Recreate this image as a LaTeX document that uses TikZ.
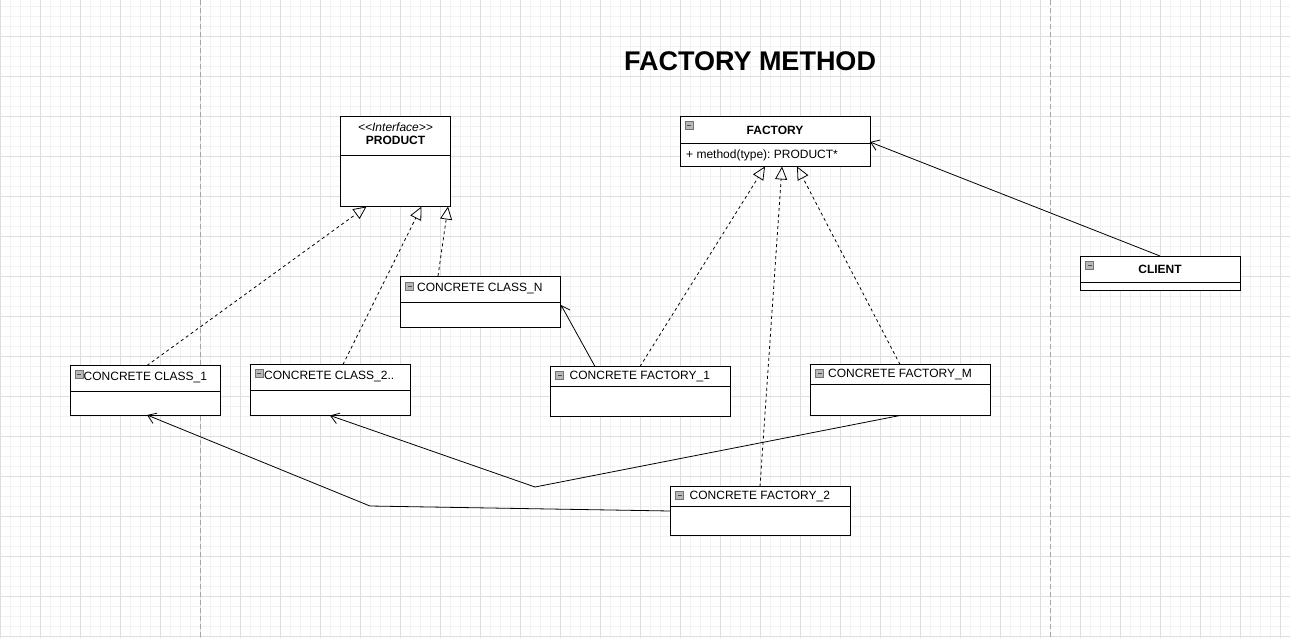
\documentclass[tikz,border=0pt]{standalone}
\usepackage{fontspec}
\setmainfont{Liberation Sans}
\usetikzlibrary{arrows.meta,calc}
\frenchspacing
\tikzset{
  minorgrid/.style={draw=black!5, line width=0.8pt},
  majorgrid/.style={draw=black!13, line width=0.8pt},
  pagebreak/.style={draw=black!35, line width=0.8pt, dash pattern=on 5pt off 3pt},
  umlbox/.style={draw=black, line width=0.9pt, fill=white, inner sep=0pt, outer sep=0pt, anchor=north west},
  divider/.style={draw=black, line width=0.9pt},
  lbl/.style={font=\fontsize{12}{14}\selectfont, inner sep=0pt, anchor=west},
  blbl/.style={font=\bfseries\fontsize{12}{14}\selectfont, inner sep=0pt},
  realize/.style={draw=black, line width=0.8pt, dash pattern=on 3pt off 3pt, -{Triangle[open, length=13pt, width=12pt]}},
  assoc/.style={draw=black, line width=0.8pt, -{Straight Barb[length=8pt, width=11pt]}},
  minusicon/.pic={
    \draw[fill=black!28, draw=black!55, line width=0.6pt] (0,0) rectangle (8,8);
    \draw[black!70, line width=0.9pt] (2,4) -- (6,4);
  }
}
\begin{document}
\begin{tikzpicture}[x=1pt, y=-1pt]
\useasboundingbox (0,0) rectangle (1290,638);
\fill[white] (0,0) rectangle (1290,638);
% grid
\foreach \x in {10,20,...,1290} \draw[minorgrid] (\x,0) -- (\x,638);
\foreach \y in {6,16,...,636} \draw[minorgrid] (0,\y) -- (1290,\y);
\foreach \x in {0,40,...,1280} \draw[majorgrid] (\x,0) -- (\x,638);
\foreach \y in {36,76,...,636} \draw[majorgrid] (0,\y) -- (1290,\y);
\draw[pagebreak] (200,0) -- (200,638);
\draw[pagebreak] (1050,0) -- (1050,638);

% title
\node[font=\bfseries\fontsize{27}{31}\selectfont, inner sep=0pt] (title) at (750,61) {FACTORY METHOD};

% PRODUCT
\node[umlbox, minimum width=110pt, minimum height=90pt] (product) at (340,116) {};
\draw[divider] (340,155) -- (450,155);
\node[font=\itshape\fontsize{12}{14}\selectfont, inner sep=0pt] (prodst) at (395.5,127) {<\kern0pt<Interface>\kern0pt>};
\node[blbl] (prodname) at (395.5,140.5) {PRODUCT};

% FACTORY
\node[umlbox, minimum width=190pt, minimum height=50pt] (factory) at (680,116.5) {};
\draw[divider] (680,143) -- (870,143);
\pic at (685,121) {minusicon};
\node[blbl] (factname) at (775,130) {FACTORY};
\node[lbl] (factop) at (686,155) {+ method(type): PRODUCT*};

% CLIENT
\node[umlbox, minimum width=160pt, minimum height=34pt] (client) at (1080.5,256) {};
\draw[divider] (1080.5,282) -- (1240.5,282);
\pic at (1085.5,261.5) {minusicon};
\node[blbl] (clientname) at (1160,269.5) {CLIENT};

% CONCRETE CLASS_1
\node[umlbox, minimum width=150pt, minimum height=50pt] (c1) at (70.5,365.5) {};
\draw[divider] (70.5,391.5) -- (220.5,391.5);
\pic at (75,370) {minusicon};
\node[lbl] (c1t) at (83.5,377.5) {CONCRETE CLASS\_1};

% CONCRETE CLASS_2..
\node[umlbox, minimum width=160pt, minimum height=51pt] (c2) at (250.5,364.5) {};
\draw[divider] (250.5,390.5) -- (410.5,390.5);
\pic at (255,369) {minusicon};
\node[lbl] (c2t) at (264,376) {CONCRETE CLASS\_2..};

% CONCRETE CLASS_N
\node[umlbox, minimum width=160pt, minimum height=51.5pt] (cn) at (400.5,276) {};
\draw[divider] (400.5,302.5) -- (560.5,302.5);
\pic at (405.5,282) {minusicon};
\node[lbl] (cnt) at (417,288.5) {CONCRETE CLASS\_N};

% CONCRETE FACTORY_1
\node[umlbox, minimum width=180pt, minimum height=49.5pt] (f1) at (550.5,366.5) {};
\draw[divider] (550.5,386.5) -- (730.5,386.5);
\pic at (555.5,371.5) {minusicon};
\node[lbl] (f1t) at (569.5,376) {CONCRETE FACTORY\_1};

% CONCRETE FACTORY_M
\node[umlbox, minimum width=180pt, minimum height=51pt] (fm) at (810.5,364.5) {};
\draw[divider] (810.5,384.5) -- (990.5,384.5);
\pic at (815.5,369.5) {minusicon};
\node[lbl] (fmt) at (828,374) {CONCRETE FACTORY\_M};

% CONCRETE FACTORY_2
\node[umlbox, minimum width=180pt, minimum height=49pt] (f2) at (670.5,486.5) {};
\draw[divider] (670.5,506.5) -- (850.5,506.5);
\pic at (675.5,491.5) {minusicon};
\node[lbl] (f2t) at (689.5,496.5) {CONCRETE FACTORY\_2};

% connector end points
\coordinate (pA) at (366.5,206.5);
\coordinate (pB) at (421.5,206.5);
\coordinate (pC) at (448,206.5);
\coordinate (fA) at (765,166.5);
\coordinate (fB) at (782,166.5);
\coordinate (fC) at (797,166.5);
\coordinate (c1top) at (147,365.5);
\coordinate (c2top) at (343,364.5);
\coordinate (cntop) at (438,276);
\coordinate (cnright) at (561,305);
\coordinate (f1topA) at (595,366.5);
\coordinate (f1topB) at (640,366.5);
\coordinate (f2top) at (760,486.5);
\coordinate (fmtop) at (900,364.5);
\coordinate (fmbot) at (900,415.5);
\coordinate (f2left) at (670.5,511);
\coordinate (c1bot) at (147,415);
\coordinate (c2bot) at (330,415.5);
\coordinate (clienttop) at (1160,256);
\coordinate (factright) at (870,142);
\coordinate (bendM) at (535,487);
\coordinate (bend2) at (370,506);

% realizations
\draw[realize] (c1top) -- (pA);
\draw[realize] (c2top) -- (pB);
\draw[realize] (cntop) -- (pC);
\draw[realize] (f1topB) -- (fA);
\draw[realize] (f2top) -- (fB);
\draw[realize] (fmtop) -- (fC);

% associations
\draw[assoc] (clienttop) -- (factright);
\draw[assoc] (f1topA) -- (cnright);
\draw[assoc] (fmbot) -- (bendM) -- (c2bot);
\draw[assoc] (f2left) -- (bend2) -- (c1bot);
\end{tikzpicture}
\end{document}
